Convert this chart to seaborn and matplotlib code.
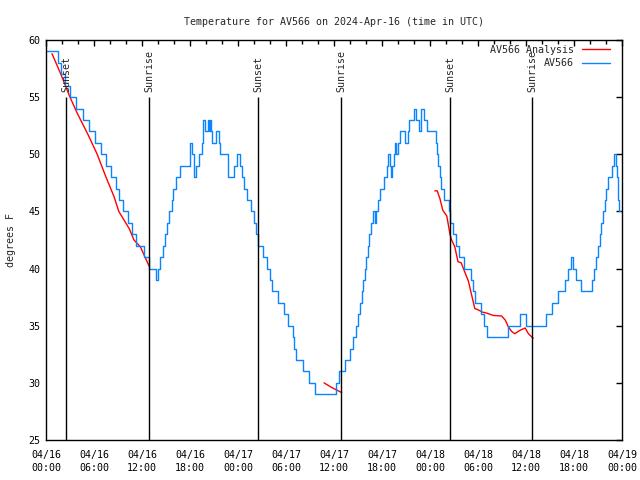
import matplotlib
matplotlib.use("Agg")
import matplotlib.pyplot as plt
import matplotlib.dates as mdates
import seaborn as sns
import pandas as pd

# hours after 2024-04-16 00:00 UTC
blue_hours = [0.0, 1.45, 1.9, 2.4, 3.0, 3.8, 4.6, 5.4, 6.1, 6.9, 7.5, 8.1, 8.7, 9.1, 9.6,
              10.2, 10.7, 11.3, 12.25, 12.9, 13.8, 14.0, 14.3, 14.6, 14.9, 15.1, 15.4,
              15.7, 15.9, 16.3, 16.7, 18.0, 18.2, 18.5, 18.8, 19.1, 19.5, 19.65, 19.9,
              20.2, 20.4, 20.5, 20.6, 20.8, 21.3, 21.6, 21.8, 22.8, 23.5, 23.9, 24.2,
              24.5, 24.8, 25.1, 25.6, 26.0, 26.2, 26.5, 27.1, 27.6, 28.0, 28.3, 29.0,
              29.8, 30.3, 30.9, 31.05, 31.3, 32.1, 32.85, 33.6, 36.2, 36.6, 37.4, 38.0,
              38.4, 38.7, 38.95, 39.2, 39.45, 39.65, 39.85, 40.05, 40.25, 40.4, 40.6,
              40.9, 41.1, 41.3, 41.5, 41.75, 42.2, 42.6, 42.8, 43.0, 43.15, 43.3, 43.45,
              43.6, 43.8, 43.95, 44.25, 44.9, 45.2, 45.4, 46.0, 46.3, 46.6, 46.9, 47.3,
              47.6, 48.7, 48.85, 49.0, 49.2, 49.4, 49.7, 50.35, 50.5, 50.9, 51.25, 51.6,
              52.2, 53.1, 53.35, 53.6, 54.4, 54.7, 55.1, 57.7, 59.2, 60.0, 62.5, 63.3,
              64.0, 64.9, 65.2, 65.6, 65.9, 66.3, 66.9, 68.3, 68.5, 68.7, 69.0, 69.2,
              69.4, 69.6, 69.9, 70.0, 70.3, 70.7, 70.95, 71.2, 71.35, 71.5, 71.65, 71.75]
blue_temps = [59, 58, 57, 56, 55, 54, 53, 52, 51, 50, 49, 48, 47, 46, 45,
              44, 43, 42, 41, 40, 39, 40, 41, 42, 43, 44, 45,
              46, 47, 48, 49, 51, 50, 48, 49, 50, 51, 53, 52,
              53, 52, 53, 52, 51, 52, 51, 50, 48, 49, 50, 49,
              48, 47, 46, 45, 44, 43, 42, 41, 40, 39, 38, 37,
              36, 35, 34, 33, 32, 31, 30, 29, 30, 31, 32, 33,
              34, 35, 36, 37, 38, 39, 40, 41, 42, 43, 44,
              45, 44, 45, 46, 47, 48, 49, 50, 49, 48, 49, 50,
              51, 50, 51, 52, 51, 52, 53, 54, 53, 52, 54, 53,
              52, 51, 50, 49, 48, 47, 46, 45, 44, 43, 42, 41,
              40, 39, 38, 37, 36, 35, 34, 35, 36, 35, 36, 37,
              38, 39, 40, 41, 40, 39, 38, 39, 40, 41, 42, 43,
              44, 45, 46, 47, 48, 49, 50, 49, 48, 46, 45, 45]

red1_hours = [0.75, 1.8, 3.0, 3.9, 5.2, 6.4, 7.5, 8.5, 9.1, 9.75, 10.4, 11.0, 11.8, 12.9]
red1_temps = [58.8, 57.1, 55.0, 53.6, 51.8, 50.0, 48.0, 46.3, 45.0, 44.25, 43.5, 42.5, 41.9, 40.2]
red2_hours = [34.75, 35.7, 36.96]
red2_temps = [30.0, 29.6, 29.15]
red3_hours = [48.6, 48.9, 49.25, 49.6, 50.1, 50.5, 50.7, 51.1, 51.5, 51.9, 52.4, 52.8, 53.2,
              53.6, 54.0, 54.5, 55.1, 55.9, 56.96, 57.4, 57.8, 58.2, 58.6, 59.25, 59.9, 60.3, 60.9]
red3_temps = [46.8, 46.8, 46.1, 45.1, 44.6, 43.0, 42.5, 41.9, 40.6, 40.5, 39.6, 38.9, 37.7,
              36.5, 36.4, 36.2, 36.1, 35.9, 35.85, 35.5, 34.9, 34.5, 34.3, 34.6, 34.8, 34.3, 33.9]

event_hours = [2.54, 12.91, 26.54, 36.91, 50.54, 60.79]
event_labels = ["Sunset", "Sunrise", "Sunset", "Sunrise", "Sunset", "Sunrise"]

base = pd.Timestamp("2024-04-16 00:00")


def to_time(hours):
    return base + pd.to_timedelta(hours, unit="h")


sns.set_theme(style="white")
plt.rcParams["font.family"] = ["DejaVu Sans Mono"]
plt.rcParams["font.size"] = 7.2
plt.rcParams["xtick.direction"] = "in"
plt.rcParams["ytick.direction"] = "in"

fig = plt.figure(figsize=(6.4, 4.8), dpi=100)
ax = fig.add_axes([46 / 640, 40 / 480, 576 / 640, 400 / 480])

red_segments = [(red1_hours, red1_temps), (red2_hours, red2_temps), (red3_hours, red3_temps)]
for i, (hrs, tmps) in enumerate(red_segments):
    seg = pd.DataFrame({"time": to_time(hrs), "temp": tmps})
    sns.lineplot(data=seg, x="time", y="temp", color="#ff0000", lw=1.0, ax=ax,
                 label="AV566 Analysis" if i == 0 else None)

blue = pd.DataFrame({"time": to_time(blue_hours), "temp": blue_temps})
sns.lineplot(data=blue, x="time", y="temp", color="#0a84ff", lw=1.0,
             drawstyle="steps-post", label="AV566", ax=ax)

ev_times = to_time(event_hours)
ax.vlines(ev_times, 25, 55, color="black", lw=1.0)
for t, lab in zip(ev_times, event_labels):
    ax.text(t, 55.45, lab, rotation=90, ha="center", va="bottom", fontsize=7.2)

ax.set_xlim(base, base + pd.Timedelta(hours=72))
ax.set_ylim(25, 60)
ax.set_yticks(range(25, 61, 5))
ax.xaxis.set_major_locator(mdates.HourLocator(byhour=[0, 6, 12, 18]))
ax.xaxis.set_minor_locator(mdates.HourLocator(byhour=range(0, 24, 2)))
ax.xaxis.set_major_formatter(mdates.DateFormatter("%m/%d\n%H:%M"))
ax.tick_params(axis="both", which="both", top=True, right=True, color="black",
               labelcolor="black", labelsize=7.2)
ax.tick_params(axis="x", which="major", length=4, width=1, pad=7)
ax.tick_params(axis="x", which="minor", length=3, width=1)
ax.tick_params(axis="y", length=4, width=1, pad=4)
for sp in ax.spines.values():
    sp.set_color("black")
    sp.set_linewidth(1.0)

ax.set_xlabel("")
ax.set_ylabel("degrees F", fontsize=7.2)
ax.yaxis.set_label_coords(-0.052, 0.5)
ax.set_title("Temperature for AV566 on 2024-Apr-16 (time in UTC)", fontsize=7.2, pad=11)

ax.legend(loc="upper right", bbox_to_anchor=(1 - 12 / 576, 1 - 5 / 400), frameon=False,
          markerfirst=False, handlelength=2.8, handletextpad=0.8, borderpad=0,
          borderaxespad=0, labelspacing=0.35, fontsize=7.2)

fig.canvas.draw()
plt.setp(ax.get_xticklabels(), linespacing=1.45)

fig.savefig("out.png", dpi=100)
